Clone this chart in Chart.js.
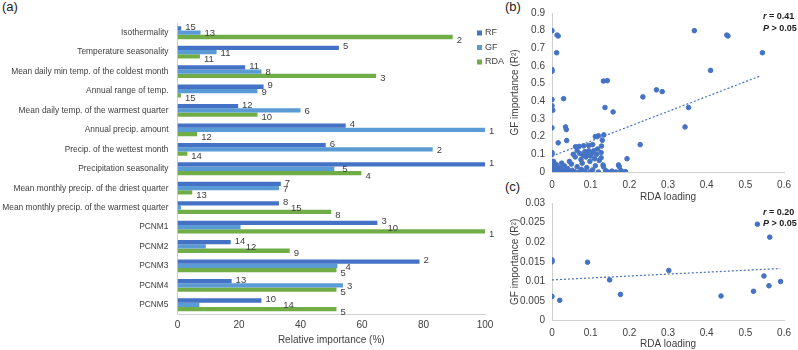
<!DOCTYPE html>
<html>
<head>
<meta charset="utf-8">
<script src="https://cdn.jsdelivr.net/npm/chart.js@4.4.1/dist/chart.umd.min.js"></script>
<style>
  body { margin: 0; background: #fff; width: 798px; height: 350px; overflow: hidden; position: relative; font-family: "Liberation Sans", Arial, sans-serif; }
  canvas { position: absolute; }
  .panel { position: absolute; font-size: 13px; color: #222; }
</style>
</head>
<body>
<div class="panel" style="left:2px;top:-1px">(a)</div>
<div class="panel" style="left:505px;top:-1px">(b)</div>
<div class="panel" style="left:505px;top:179px">(c)</div>
<canvas id="chartA" width="510" height="350" style="left:0;top:0"></canvas>
<canvas id="chartB" width="298" height="207" style="left:500px;top:0"></canvas>
<canvas id="chartC" width="298" height="160" style="left:500px;top:190px"></canvas>

<script>
// ---- panel (a) data ----
const variables = [
  "Isothermality",
  "Temperature seasonality",
  "Mean daily min temp. of the coldest month",
  "Annual range of temp.",
  "Mean daily temp. of the warmest quarter",
  "Annual precip. amount",
  "Precip. of the wettest month",
  "Precipitation seasonality",
  "Mean monthly precip. of the driest quarter",
  "Mean monthly precip. of the warmest quarter",
  "PCNM1", "PCNM2", "PCNM3", "PCNM4", "PCNM5"
];
const rfValues  = [1.2, 52.5, 22, 28, 19.7, 54.7, 48.2, 100, 33.6, 33, 65, 17.3, 78.7, 17.6, 27.3];
const gfValues  = [7.5, 12.7, 27.3, 26, 40, 100, 83, 51, 33, 1.1, 20.5, 9.2, 52, 53.8, 7.1];
const rdaValues = [89.5, 7.3, 64.6, 1.1, 26, 6.4, 3.2, 59.8, 4.8, 50, 100, 36.5, 51.7, 51.7, 51.7];
const rfRanks  = [15, 5, 11, 9, 12, 4, 6, 1, 7, 8, 3, 14, 2, 13, 10];
const gfRanks  = [13, 11, 8, 9, 6, 1, 2, 5, 7, 15, 10, 12, 4, 3, 14];
const rdaRanks = [2, 11, 3, 15, 10, 12, 14, 4, 13, 8, 1, 9, 5, 5, 5];
const xTicksA = [0, 20, 40, 60, 80, 100];

// ---- panel (b) data ----
const pointsB = [
  {x:0,y:0.80},{x:0.013,y:0.775},{x:0.016,y:0.77},{x:0.012,y:0.675},{x:0,y:0.58},{x:0,y:0.57},
  {x:0,y:0.41},{x:0.03,y:0.415},{x:0,y:0.375},{x:0.002,y:0.35},{x:0,y:0.25},{x:0.035,y:0.255},
  {x:0.037,y:0.24},{x:0.016,y:0.165},{x:0.038,y:0.178},{x:0,y:0.11},{x:0,y:0.10},{x:0.133,y:0.515},
  {x:0.143,y:0.517},{x:0.137,y:0.365},{x:0.158,y:0.34},{x:0.368,y:0.80},{x:0.452,y:0.775},{x:0.455,y:0.77},
  {x:0.544,y:0.675},{x:0.41,y:0.575},{x:0.27,y:0.465},{x:0.285,y:0.455},{x:0.235,y:0.425},{x:0.353,y:0.365},
  {x:0.344,y:0.255},{x:0.228,y:0.155},{x:0.194,y:0.075},
  {x:0.061,y:0.143},{x:0.07,y:0.145},{x:0.082,y:0.148},{x:0.095,y:0.15},{x:0.105,y:0.155},{x:0.112,y:0.2},
  {x:0.12,y:0.205},{x:0.134,y:0.21},{x:0.13,y:0.18},{x:0.128,y:0.147},{x:0.127,y:0.11},{x:0.127,y:0.08},
  {x:0.055,y:0.1},{x:0.06,y:0.085},{x:0.065,y:0.12},{x:0.072,y:0.105},{x:0.075,y:0.07},{x:0.08,y:0.095},
  {x:0.085,y:0.115},{x:0.088,y:0.085},{x:0.092,y:0.1},{x:0.095,y:0.12},{x:0.1,y:0.09},{x:0.103,y:0.105},
  {x:0.108,y:0.12},{x:0.11,y:0.075},{x:0.115,y:0.1},{x:0.118,y:0.13},{x:0.045,y:0.06},{x:0.05,y:0.045},
  {x:0.078,y:0.05},{x:0.098,y:0.06},{x:0.122,y:0.065},
  {x:0.002,y:0.03},{x:0.005,y:0.02},{x:0.008,y:0.01},{x:0.01,y:0},{x:0.003,y:0.005},{x:0.012,y:0.04},
  {x:0.015,y:0.015},{x:0.018,y:0.005},{x:0.02,y:0.025},{x:0.024,y:0},{x:0.028,y:0.012},{x:0.032,y:0.035},
  {x:0.035,y:0.005},{x:0.04,y:0.02},{x:0.045,y:0},{x:0.052,y:0.01},{x:0.058,y:0.002},{x:0.065,y:0.03},
  {x:0.07,y:0},{x:0.076,y:0.015},{x:0.085,y:0.003},{x:0.09,y:0.025},{x:0.098,y:0},{x:0.105,y:0.012},
  {x:0.112,y:0.035},{x:0.12,y:0},{x:0.132,y:0.04},{x:0.133,y:0.03},{x:0.138,y:0.01},{x:0.145,y:0},
  {x:0.155,y:0.005},{x:0.165,y:0},{x:0.172,y:0.04},{x:0.174,y:0.03},{x:0.178,y:0.008},{x:0.183,y:0},
  {x:0.19,y:0.002},{x:0.004,y:0.06},{x:0.025,y:0.05},{x:0.008,y:0.045}
];
const trendB = [{x:0, y:0.09}, {x:0.54, y:0.545}];
const statsB = ["0.41", "> 0.05"];

// ---- panel (c) data ----
const pointsC = [
  {x:0,y:0.0150},{x:0,y:0.0155},{x:0,y:0.0062},{x:0.02,y:0.0052},{x:0.092,y:0.0149},{x:0.149,y:0.0104},
  {x:0.177,y:0.0067},{x:0.302,y:0.0128},{x:0.437,y:0.0063},{x:0.521,y:0.0075},{x:0.531,y:0.0246},
  {x:0.548,y:0.0114},{x:0.563,y:0.0213},{x:0.561,y:0.0089},{x:0.591,y:0.0100}
];
const trendC = [{x:0, y:0.0104}, {x:0.59, y:0.0133}];
const statsC = ["0.20", "> 0.05"];

const FONT = '"Liberation Sans", Arial, sans-serif';
Chart.defaults.font.family = FONT;
Chart.defaults.color = '#404040';
Chart.defaults.devicePixelRatio = 1;

const blue = '#4472C4', lightBlue = '#5B9BD5', green = '#70AD47', axisGray = '#d0d0d0';

// GF labels that were moved right in the original figure
const gfLabelShift = {9: 106, 10: 143, 11: 36, 14: 80, 7: 4, 12: 4};
const labelDy = [-1, 1, 3];

const rankLabels = {
  id: 'rankLabels',
  afterDatasetsDraw(chart) {
    const ctx = chart.ctx;
    ctx.save();
    ctx.font = '9.5px ' + FONT;
    ctx.fillStyle = '#404040';
    ctx.textBaseline = 'middle';
    chart.data.datasets.forEach((ds, di) => {
      chart.getDatasetMeta(di).data.forEach((bar, i) => {
        const shift = di === 1 ? (gfLabelShift[i] || 0) : 0;
        ctx.fillText(String(ds.ranks[i]), bar.x + 4 + shift, bar.y + labelDy[di]);
      });
    });
    ctx.restore();
  }
};

const legendA = {
  id: 'legendA',
  afterDraw(chart) {
    const ctx = chart.ctx;
    ctx.save();
    ctx.font = '9px ' + FONT;
    ctx.textBaseline = 'middle';
    chart.data.datasets.forEach((ds, i) => {
      const y = 33 + i * 14.5;
      ctx.fillStyle = ds.backgroundColor;
      ctx.fillRect(477, y - 2.5, 5, 5);
      ctx.fillStyle = '#404040';
      ctx.fillText(ds.label, 485, y);
    });
    ctx.restore();
  }
};

new Chart(document.getElementById('chartA'), {
  type: 'bar',
  data: {
    labels: variables,
    datasets: [
      { label: 'RF', data: rfValues, ranks: rfRanks, backgroundColor: blue },
      { label: 'GF', data: gfValues, ranks: gfRanks, backgroundColor: lightBlue },
      { label: 'RDA', data: rdaValues, ranks: rdaRanks, backgroundColor: green }
    ]
  },
  options: {
    indexAxis: 'y',
    responsive: false,
    animation: false,
    layout: { padding: { left: 0, right: 25, top: 23, bottom: 0 } },
    datasets: { bar: { barPercentage: 1, categoryPercentage: 0.66 } },
    plugins: { legend: { display: false }, tooltip: { enabled: false } },
    scales: {
      x: {
        min: 0, max: 100,
        afterBuildTicks: s => { s.ticks = xTicksA.map(v => ({ value: v })); },
        afterFit: s => { s.height = 35.5; },
        grid: { display: false, drawTicks: false },
        border: { display: true, color: axisGray },
        ticks: { padding: 5, font: { size: 10 } },
        title: { display: true, text: 'Relative importance (%)', font: { size: 10 }, padding: { top: 4, bottom: 4 } }
      },
      y: {
        afterFit: s => { s.width = 177.5; },
        grid: { display: false, drawTicks: false },
        border: { display: true, color: axisGray },
        ticks: { autoSkip: false, padding: 9, font: { size: 8.4 } }
      }
    }
  },
  plugins: [rankLabels, legendA]
});

const statsText = {
  id: 'statsText',
  afterDraw(chart, args, opts) {
    const ctx = chart.ctx;
    const x = chart.chartArea.right + opts.dx;
    const y = chart.chartArea.top + opts.dy;
    ctx.save();
    ctx.textBaseline = 'middle';
    ctx.fillStyle = '#222';
    const lines = [['r', ' = ' + opts.values[0]], ['P', ' ' + opts.values[1]]];
    lines.forEach((ln, i) => {
      ctx.font = 'italic bold 9px ' + FONT;
      ctx.fillText(ln[0], x, y + i * 11.6);
      const w = ctx.measureText(ln[0]).width;
      ctx.font = 'bold 9px ' + FONT;
      ctx.fillText(ln[1], x + w, y + i * 11.6);
    });
    ctx.restore();
  }
};

const fmt = v => String(+(+v).toFixed(4));

function scatterConfig(points, trend, stats, yMax, yStep, padTop, xHeight, yFit, statDy, titlePadBottom) {
  return {
    type: 'scatter',
    data: {
      datasets: [
        { data: points, backgroundColor: blue, borderColor: blue, pointRadius: 2.3, pointHoverRadius: 2.3 },
        { type: 'line', data: trend, borderColor: blue, borderWidth: 1.2, borderDash: [2, 2], pointRadius: 0, fill: false }
      ]
    },
    options: {
      responsive: false,
      animation: false,
      layout: { padding: { left: 5, right: 10, top: padTop, bottom: 0 } },
      plugins: {
        legend: { display: false }, tooltip: { enabled: false },
        statsText: { values: stats, dx: -21, dy: statDy }
      },
      scales: {
        x: {
          type: 'linear', min: 0, max: 0.6,
          afterFit: s => { s.height = xHeight; },
          grid: { display: false, drawTicks: false },
          border: { display: true, color: axisGray },
          ticks: { stepSize: 0.1, padding: 7, font: { size: 10 }, callback: fmt },
          title: { display: true, text: 'RDA loading', font: { size: 10 }, padding: { top: 2, bottom: titlePadBottom } }
        },
        y: {
          min: 0, max: yMax,
          afterFit: s => { s.width = yFit; },
          grid: { display: false, drawTicks: false },
          border: { display: true, color: axisGray },
          ticks: { stepSize: yStep, padding: 7, font: { size: 10 }, callback: fmt },
          title: { display: true, text: 'GF importance (R²)', font: { size: 10 }, padding: { top: 4, bottom: 4 } }
        }
      }
    },
    plugins: [statsText]
  };
}

new Chart(document.getElementById('chartB'),
  scatterConfig(pointsB, trendB, statsB, 0.9, 0.1, 13, 35, 47, 4, 4));
new Chart(document.getElementById('chartC'),
  scatterConfig(pointsC, trendC, statsC, 0.03, 0.005, 10.7, 29.3, 47, 9.3, 0));
</script>
</body>
</html>
